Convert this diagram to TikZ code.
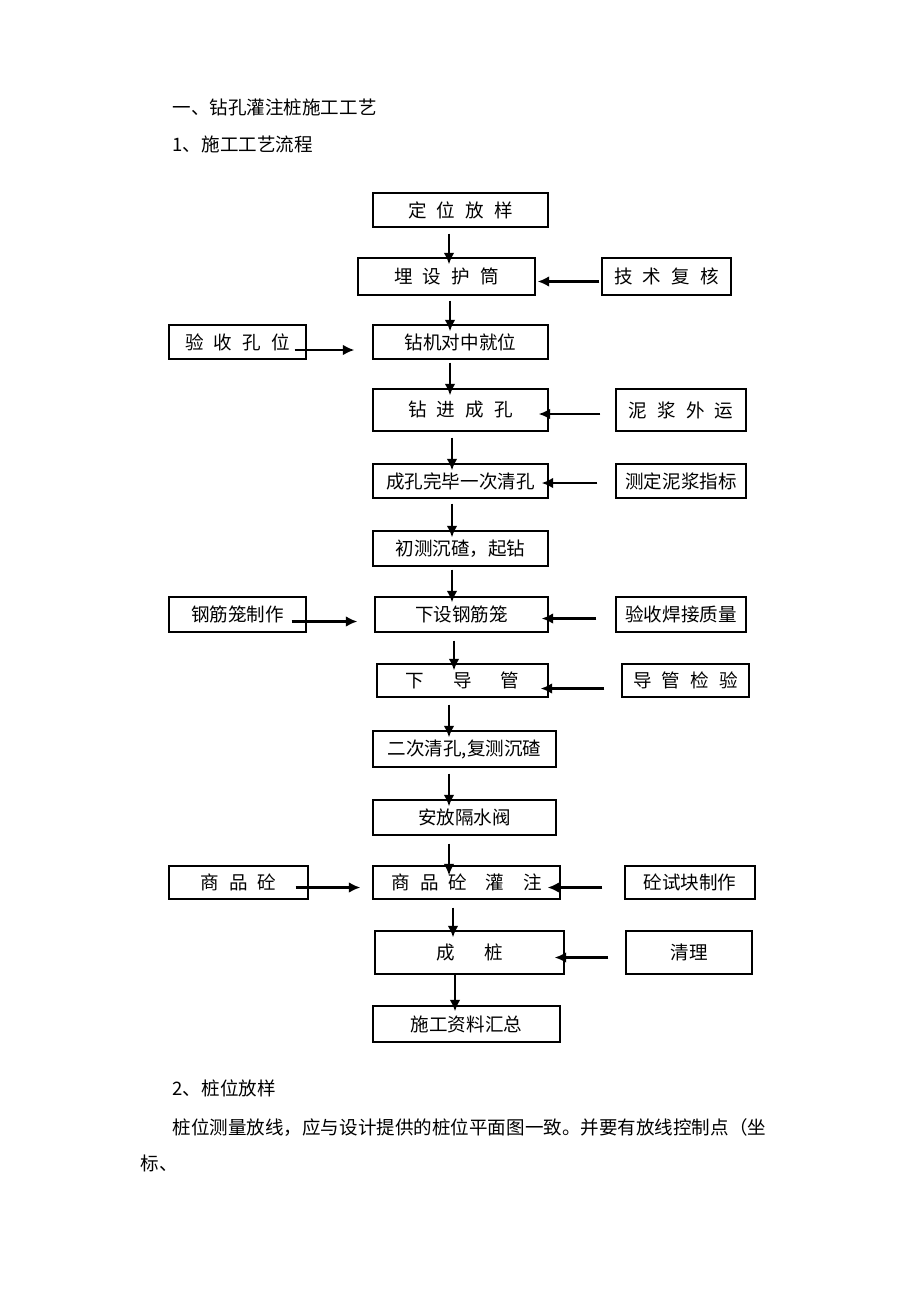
\documentclass[tikz,border=0pt]{standalone}
\usepackage{fontspec}
\setmainfont{Noto Sans CJK SC}
\usepackage{tikz}
\usetikzlibrary{fit,arrows.meta,calc,positioning}
\newcommand{\gp}{\hspace{0.55em}}

\begin{document}
\begin{tikzpicture}[x=0.647pt,y=-0.647pt,font=\fontsize{12pt}{14pt}\selectfont]
				\tikzstyle{every path}=[line width=0.8pt]
				\tikzstyle{box}=[draw,inner sep=0pt]
				\tikzstyle{txt}=[anchor=west,inner sep=0pt]
				\tikzstyle{l} = [draw, -{Latex[length=7.5pt,width=7pt]},line width=1.9pt]
				\useasboundingbox (0,0) rectangle (920,1302);

				%% Headings
				\node [txt] (h1) at (172,107) {一、钻孔灌注桩施工工艺};
				\node [txt] (h2) at (172,144) {1、施工工艺流程};

				%% Main column
				\node [box,fit={(373,193) (548,227)},label=center:{定\gp 位\gp 放\gp 样}] (1) {};
				\node [box,fit={(358,258) (535,295)},label=center:{埋\gp 设\gp 护\gp 筒}] (2) {};
				\node [box,fit={(373,325) (548,359)},label=center:{钻机对中就位}] (3) {};
				\node [box,fit={(373,389) (548,431)},label=center:{钻\gp 进\gp 成\gp 孔}] (4) {};
				\node [box,fit={(373,464) (548,498)},label=center:{成孔完毕一次清孔}] (5) {};
				\node [box,fit={(373,531) (548,566)},label=center:{初测沉碴，起钻}] (6) {};
				\node [box,fit={(375,597) (548,632)},label=center:{下设钢筋笼}] (7) {};
				\node [box,fit={(377,664) (548,697)},label=center:{下\hspace{1.55em}导\hspace{1.55em}管}] (8) {};
				\node [box,fit={(373,731) (556,767)},label=center:{二次清孔,复测沉碴}] (9) {};
				\node [box,fit={(373,800) (556,835)},label=center:{安放隔水阀}] (10) {};
				\node [box,fit={(373,866) (560,899)},label=center:{商\gp 品\gp 砼\hspace{1em}灌\hspace{1em}注}] (11) {};
				\node [box,fit={(375,931) (564,974)},label=center:{成\hspace{1.6em}桩}] (12) {};
				\node [box,fit={(373,1006) (560,1042)},label=center:{施工资料汇总}] (13) {};

				%% Side boxes
				\node [box,fit={(602,258) (731,295)},label=center:{技\gp 术\gp 复\gp 核}] (r2) {};
				\node [box,fit={(169,325) (306,359)},label=center:{验\gp 收\gp 孔\gp 位}] (l3) {};
				\node [box,fit={(616,389) (746,431)},label=center:{泥\gp 浆\gp 外\gp 运}] (r4) {};
				\node [box,fit={(616,464) (746,498)},label=center:{测定泥浆指标}] (r5) {};
				\node [box,fit={(169,597) (306,632)},label=center:{钢筋笼制作}] (l7) {};
				\node [box,fit={(616,597) (746,632)},label=center:{验收焊接质量}] (r7) {};
				\node [box,fit={(622,664) (749,697)},label=center:{导\gp 管\gp 检\gp 验}] (r8) {};
				\node [box,fit={(169,866) (308,899)},label=center:{商\gp 品\gp 砼}] (l11) {};
				\node [box,fit={(625,866) (755,899)},label=center:{砼试块制作}] (r11) {};
				\node [box,fit={(626,931) (752,974)},label=center:{清理}] (r12) {};

				%% Down arrows
				\draw [l] ($(1.south)+(-11.5,6)$) -- ($(2.north)+(2.5,7)$);
				\draw [l] ($(2.south)+(3.5,5)$) -- ($(3.north)+(-10.5,7)$);
				\draw [l] ($(3.south)+(-10.5,3)$) -- ($(4.north)+(-10.5,7)$);
				\draw [l] ($(4.south)+(-8.5,6)$) -- ($(5.north)+(-8.5,7)$);
				\draw [l] ($(5.south)+(-8.5,5)$) -- ($(6.north)+(-8.5,7)$);
				\draw [l] ($(6.south)+(-8.5,3)$) -- ($(7.north)+(-9.5,6)$);
				\draw [l] ($(7.south)+(-7.5,8)$) -- ($(8.north)+(-8.5,7)$);
				\draw [l] ($(8.south)+(-13.5,7)$) -- ($(9.north)+(-15.5,7)$);
				\draw [l] ($(9.south)+(-15.5,6)$) -- ($(10.north)+(-15.5,7)$);
				\draw [l] ($(10.south)+(-15.5,8)$) -- ($(11.north)+(-17.5,10)$);
				\draw [l] ($(11.south)+(-13.5,8)$) -- ($(12.north)+(-16.5,7)$);
				\draw [l] ($(12.south)+(-14.5,0)$) -- ($(13.north)+(-11.5,6)$);

				%% Side arrows
				\draw [l] ($(r2.west)+(-2,5)$) -- ($(2.east)+(2,5)$);
				\draw [l] ($(l3.east)+(-12,8)$) -- ($(3.west)+(-18,8)$);
				\draw [l] ($(r4.west)+(-15,4)$) -- ($(4.east)+(-10,4)$);
				\draw [l] ($(r5.west)+(-18,2)$) -- ($(5.east)+(-7,2)$);
				\draw [l] ($(l7.east)+(-15,7)$) -- ($(7.west)+(-17,7)$);
				\draw [l] ($(r7.west)+(-19,4)$) -- ($(7.east)+(-7,4)$);
				\draw [l] ($(r8.west)+(-17,8)$) -- ($(8.east)+(-8,8)$);
				\draw [l] ($(l11.east)+(-13,5)$) -- ($(11.west)+(-12,5)$);
				\draw [l] ($(r11.west)+(-22,5)$) -- ($(11.east)+(-13,5)$);
				\draw [l] ($(r12.west)+(-17,5)$) -- ($(12.east)+(-10,5)$);

				%% Text below
				\node [txt] (h3) at (172,1088) {2、桩位放样};
				\node [txt] (p1) at (172,1128) {桩位测量放线，应与设计提供的桩位平面图一致。并要有放线控制点（坐};
				\node [txt] (p2) at (140,1163) {标、};
\end{tikzpicture}
\end{document}
